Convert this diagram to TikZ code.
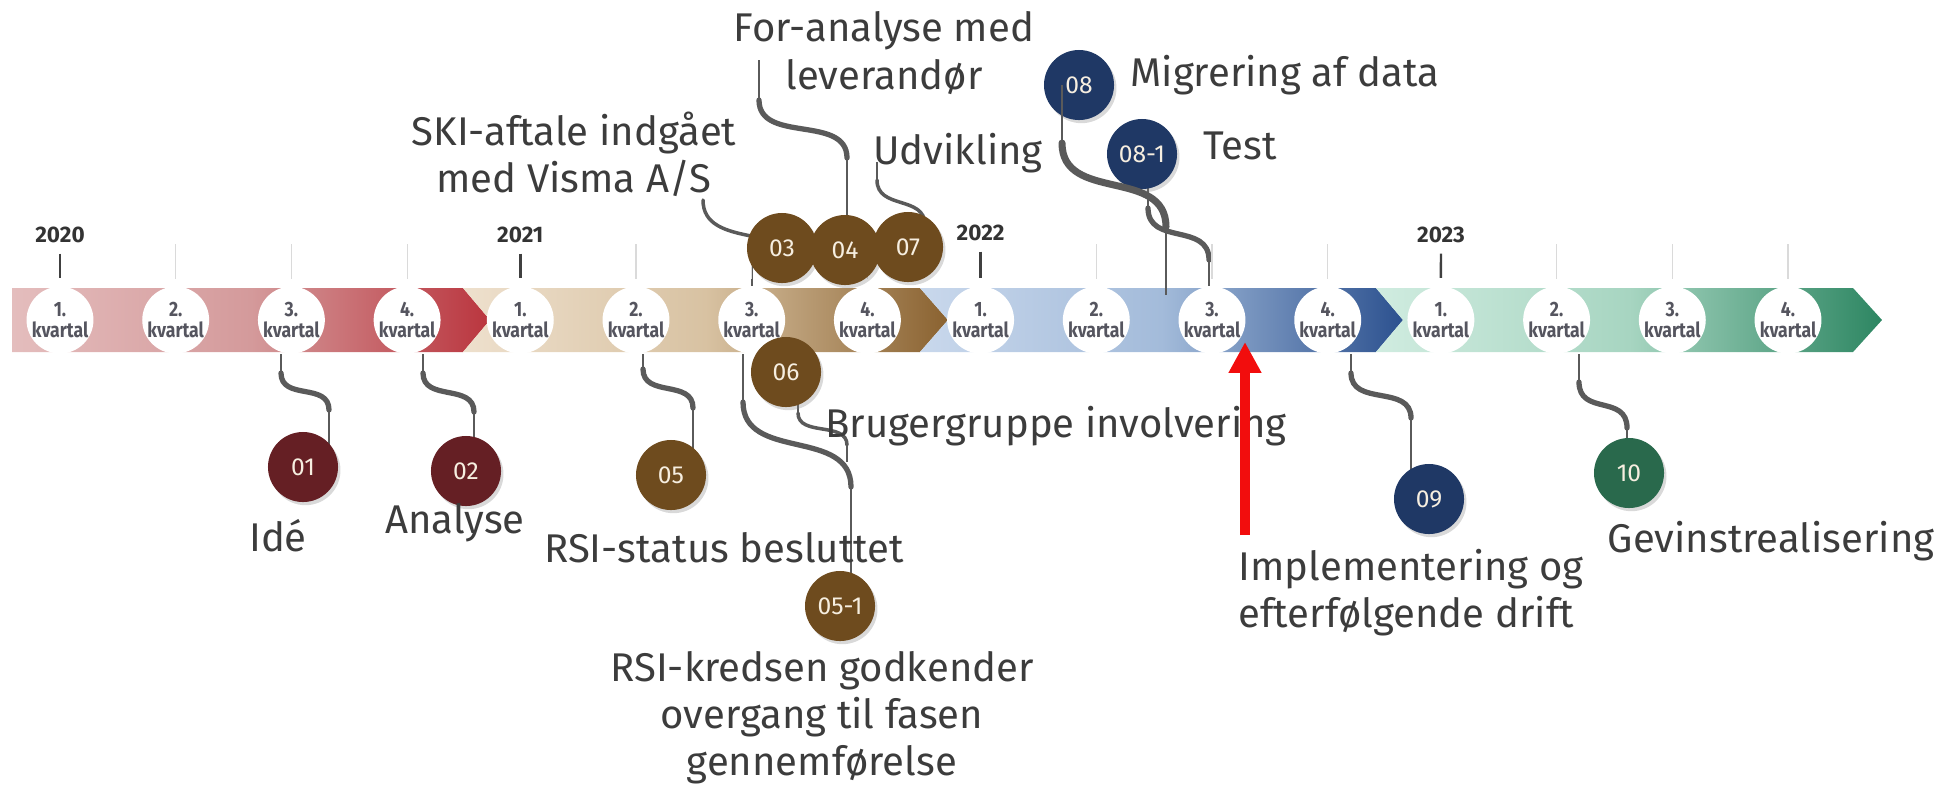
\documentclass[tikz,border=0pt]{standalone}
\usepackage{fontspec}
\setmainfont{Fira Sans}
\newfontfamily\narrowfont{Fira Sans}[FakeStretch=0.85]
\usetikzlibrary{shadows,arrows.meta,backgrounds}

\definecolor{labelgray}{HTML}{3C3C3C}
\definecolor{qgray}{HTML}{55555F}
\definecolor{wiregray}{HTML}{5A5A5A}
\definecolor{tickgray}{HTML}{DADADA}
\definecolor{numcream}{HTML}{F6EEE0}
\definecolor{maroon}{HTML}{651F24}
\definecolor{umber}{HTML}{6E4B1E}
\definecolor{navy}{HTML}{1F3865}
\definecolor{pine}{HTML}{29694C}
\definecolor{alertred}{HTML}{F20D0D}
% bar colours
\definecolor{redA}{HTML}{E4BDBD}
\definecolor{redB}{HTML}{D49A9B}
\definecolor{redC}{HTML}{BA353E}
\definecolor{tanA}{HTML}{EEE0CD}
\definecolor{tanB}{HTML}{D8C2A2}
\definecolor{tanC}{HTML}{8A6230}
\definecolor{blueA}{HTML}{C9D8EC}
\definecolor{blueB}{HTML}{A3BBDA}
\definecolor{blueC}{HTML}{2C518F}
\definecolor{greenA}{HTML}{D0ECE0}
\definecolor{greenB}{HTML}{A7D5C1}
\definecolor{greenC}{HTML}{2D8662}

\tikzset{
  quarter/.style={circle, fill=white, minimum size=0.6cm, inner sep=0pt, align=center, text=qgray, font=\narrowfont\bfseries\fontsize{5.9}{6.1}\selectfont},
  year/.style={text=black!80, inner sep=0pt, font=\bfseries\fontsize{6.4}{7}\selectfont},
  milestone/.style={circle, minimum size=0.7cm, inner sep=0pt, text=numcream, font=\fontsize{7}{8}\selectfont, drop shadow={opacity=0.3, shadow xshift=0.7pt, shadow yshift=-0.9pt}},
  lbl/.style={text=labelgray, align=center, inner sep=0pt, font=\fontsize{11.4}{13.4}\selectfont},
  stem/.style={draw=wiregray, line width=0.5pt},
  wave/.style={draw=wiregray, line width=1.5pt, line cap=round},
  yeartick/.style={draw=black!75, line width=0.7pt},
  qtick/.style={draw=tickgray, line width=0.3pt},
  alertarrow/.style={draw=alertred, line width=2.6pt, -{Triangle[length=8.8pt, width=8.8pt]}}
}

\begin{document}
\begin{tikzpicture}[x=0.01cm, y=-0.01cm]
\useasboundingbox (0,0) rectangle (1942,787);

% the four years as chevrons
\shade[left color=redA, right color=redC, middle color=redB] (12,288) -- (463,288) -- (490,320) -- (463,352) -- (12,352) -- cycle;
\shade[left color=tanA, right color=tanC, middle color=tanB] (463,288) -- (920,288) -- (948,320) -- (920,352) -- (463,352) -- (490,320) -- cycle;
\shade[left color=blueA, right color=blueC, middle color=blueB] (920,288) -- (1376,288) -- (1403,320) -- (1376,352) -- (920,352) -- (948,320) -- cycle;
\shade[left color=greenA, right color=greenC, middle color=greenB] (1376,288) -- (1853,288) -- (1882,320) -- (1853,352) -- (1376,352) -- (1403,320) -- cycle;

% quarters
\foreach \s in {1,...,4}
  \foreach \q in {1,...,4}
    \node[quarter] (q\s\q) at ({60+460.3*(\s-1)+115.7*(\q-1)},320) {\q.\\kvartal};
\foreach \s in {1,...,4}
  \foreach \q in {2,3,4}
    \draw[qtick] ([yshift=0.07cm]q\s\q.north) -- ++(0,-35);

% years
\node[year] (y2020) at (60,235) {2020};
\node[year] (y2021) at (520.3,235) {2021};
\node[year] (y2022) at (980.6,233) {2022};
\node[year] (y2023) at (1441,235) {2023};
\draw[yeartick] ([yshift=-0.1cm]y2020.south) -- ([yshift=0.08cm]q11.north);
\draw[yeartick] ([yshift=-0.1cm]y2021.south) -- ([yshift=0.08cm]q21.north);
\draw[yeartick] ([yshift=-0.1cm]y2022.south) -- ([yshift=0.08cm]q31.north);
\draw[yeartick] ([yshift=-0.1cm]y2023.south) -- ([yshift=0.08cm]q41.north);

% milestones
\node[milestone, fill=maroon] (m01) at (303,467) {01};
\node[milestone, fill=maroon] (m02) at (466,471) {02};
\node[milestone, fill=umber] (m03) at (782,248) {03};
\node[milestone, fill=umber] (m04) at (845,250) {04};
\node[milestone, fill=umber] (m07) at (908,247) {07};
\node[milestone, fill=umber] (m05) at (671,475) {05};
\node[milestone, fill=umber] (m06) at (786,372) {06};
\node[milestone, fill=umber] (m051) at (840,606) {05-1};
\node[milestone, fill=navy] (m08) at (1079,85) {08};
\node[milestone, fill=navy] (m081) at (1142,154) {08-1};
\node[milestone, fill=navy] (m09) at (1429,499) {09};
\node[milestone, fill=pine] (m10) at (1629,473) {10};

% texts
\node[lbl] (foranalyse) at (884,53) {For-analyse med\\leverandør};
\node[lbl] (ski) at (574,154) {SKI-aftale indgået\\med Visma A/S};
\node[lbl] (udvikling) at (958,153) {Udvikling};
\node[lbl] (migrering) at (1285,75) {Migrering af data};
\node[lbl] (test) at (1240,146) {Test};
\node[lbl] (bruger) at (1056,426) {Brugergruppe involvering};
\node[lbl] (ide) at (278,536) {Idé};
\node[lbl] (analyse) at (455,523) {Analyse};
\node[lbl] (rsistatus) at (724,548) {RSI-status besluttet};
\node[lbl] (rsikreds) at (822,718) {RSI-kredsen godkender\\overgang til fasen\\gennemførelse};
\node[lbl, align=left, anchor=west] (implement) at (1238,593) {Implementering og\\efterfølgende drift};
\node[lbl] (gevinst) at (1771,541) {Gevinstrealisering};

% connectors, behind bar and circles
\begin{scope}[on background layer]
  % 01
  \coordinate (w01a) at (281,373);
  \coordinate (w01b) at (329,410);
  \draw[stem] (w01a |- q13.south) -- (w01a);
  \draw[wave] (w01a) .. controls +(0,28) and +(0,-28) .. (w01b);
  \draw[stem] (w01b) -- (w01b |- m01.center);
  % 02
  \coordinate (w02a) at (423,373);
  \coordinate (w02b) at (474,412);
  \draw[stem] (w02a |- q14.south) -- (w02a);
  \draw[wave] (w02a) .. controls +(0,29) and +(0,-29) .. (w02b);
  \draw[stem] (w02b) -- (w02b |- m02.center);
  % 05
  \coordinate (w05a) at (643,369);
  \coordinate (w05b) at (693,408);
  \draw[stem] (w05a |- q22.south) -- (w05a);
  \draw[wave] (w05a) .. controls +(0,29) and +(0,-29) .. (w05b);
  \draw[stem] (w05b) -- (w05b |- m05.center);
  % 05-1
  \coordinate (w051a) at (743,402);
  \coordinate (w051b) at (851,487);
  \draw[stem] (w051a |- q23.south) -- (w051a);
  \draw[wave] (w051a) .. controls +(0,60) and +(0,-60) .. (w051b);
  \draw[stem] (w051b) -- (w051b |- m051.center);
  % 06
  \coordinate (w06a) at (798,413);
  \coordinate (w06b) at (847,445);
  \coordinate (w06c) at (847,462);
  \draw[stem] (w06a |- m06.center) -- (w06a);
  \draw[wave, line width=1pt] (w06a) .. controls +(0,24) and +(0,-24) .. (w06b);
  \draw[stem] (w06b) -- (w06c);
  % 03
  \coordinate (w03a) at (703,200);
  \coordinate (w03b) at (751,236);
  \draw[wave, line width=1pt] (w03a) .. controls +(0,25) and +(-25,-5) .. (w03b);
  \draw[stem] (q23.north) -- (q23.north |- m03.center);
  % 04
  \coordinate (w04a) at (759,60);
  \coordinate (w04b) at (759,100);
  \coordinate (w04c) at (847,158);
  \draw[stem] (w04a) -- (w04b);
  \draw[wave] (w04b) .. controls +(0,44) and +(0,-44) .. (w04c);
  \draw[stem] (w04c) -- (w04c |- m04.center);
  % 07
  \coordinate (w07a) at (877,162);
  \coordinate (w07b) at (877,180);
  \coordinate (w07c) at (925,225);
  \draw[stem] (w07a) -- (w07b);
  \draw[wave, line width=1pt] (w07b) .. controls +(0,30) and +(0,-30) .. (w07c);
  % 08-1
  \coordinate (w081a) at (1148,208);
  \coordinate (w081b) at (1209,260);
  \draw[stem] (w081a |- m081.center) -- (w081a);
  \draw[wave] (w081a) .. controls +(0,38) and +(0,-38) .. (w081b);
  \draw[stem] (w081b) -- (w081b |- q33.north);
  % 09
  \coordinate (w09a) at (1351,373);
  \coordinate (w09b) at (1411,418);
  \draw[stem] (w09a |- q34.south) -- (w09a);
  \draw[wave] (w09a) .. controls +(0,34) and +(0,-34) .. (w09b);
  \draw[stem] (w09b) -- (w09b |- m09.center);
  % 10
  \coordinate (w10a) at (1579,382);
  \coordinate (w10b) at (1627,428);
  \draw[stem] (w10a |- q42.south) -- (w10a);
  \draw[wave] (w10a) .. controls +(0,34) and +(0,-34) .. (w10b);
  \draw[stem] (w10b) -- (w10b |- m10.center);
\end{scope}

% 08 runs over its circles
\coordinate (w08a) at (1062,143);
\coordinate (w08b) at (1166,227);
\coordinate (w08c) at (1166,295);
\draw[stem] (w08a |- m08.center) -- (w08a);
\draw[wave, line width=2pt] (w08a) .. controls +(0,60) and +(0,-60) .. (w08b);
\draw[stem] (w08b) -- (w08c);

% today
\coordinate (arrowfoot) at (1245,535);
\coordinate (arrowtip) at (1245,342);
\draw[alertarrow] (arrowfoot) -- (arrowtip);
\end{tikzpicture}
\end{document}
